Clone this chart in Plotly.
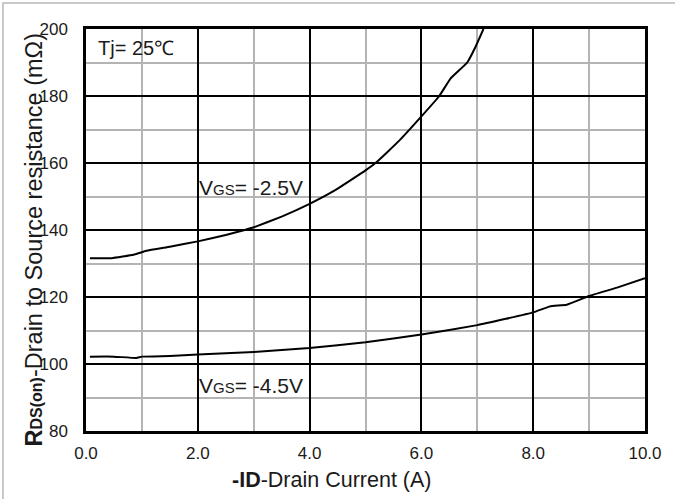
import plotly.graph_objects as go

# Data
id_25 = [0.07, 0.46, 0.85, 1.08, 1.5, 2.0, 2.5, 2.84, 3.0, 3.5, 4.0, 4.45, 5.0, 5.2, 5.6, 6.0, 6.32, 6.52, 6.82, 6.96, 7.11]
rds_25 = [131.6, 131.6, 132.6, 133.8, 135.0, 136.6, 138.5, 140.0, 140.8, 144.0, 147.8, 151.8, 157.8, 160.3, 166.6, 173.9, 180.0, 185.2, 190.0, 194.4, 200.0]

id_45 = [0.07, 0.5, 0.9, 1.0, 1.5, 2.0, 3.0, 4.0, 5.0, 6.0, 7.0, 8.0, 8.3, 8.6, 9.0, 9.5, 10.0]
rds_45 = [102.2, 102.2, 101.8, 102.2, 102.4, 102.8, 103.6, 104.8, 106.5, 108.8, 111.6, 115.4, 117.2, 117.7, 120.3, 122.8, 125.6]

x_ticks = [0, 2, 4, 6, 8, 10]
x_ticklabels = ["0.0", "2.0", "4.0", "6.0", "8.0", "10.0"]
x_minor = [1, 3, 5, 7, 9]
y_ticks = [80, 100, 120, 140, 160, 180, 200]
y_minor = [90, 110, 130, 150, 170, 190]

FONT = "Arial, Liberation Sans, sans-serif"
TXT = "#1a1a1a"
MINOR = "#b4b4b4"

fig = go.Figure()

fig.update_layout(
    width=675, height=499,
    margin=dict(l=86, r=30, t=29, b=68),
    paper_bgcolor="white", plot_bgcolor="white",
    font=dict(family=FONT, size=17, color=TXT),
    xaxis=dict(range=[x_ticks[0], x_ticks[-1]], tickmode="array", tickvals=x_ticks, ticktext=x_ticklabels,
               showgrid=True, gridcolor="black", gridwidth=2,
               minor=dict(tickmode="array", tickvals=x_minor, showgrid=True, gridcolor=MINOR, gridwidth=2),
               showline=True, linecolor="black", linewidth=2.5, mirror=True,
               ticks="", ticklabelstandoff=5, zeroline=False,
               tickfont=dict(size=17, color=TXT)),
    yaxis=dict(range=[y_ticks[0], y_ticks[-1]], tickmode="array", tickvals=y_ticks,
               showgrid=True, gridcolor="black", gridwidth=2,
               minor=dict(tickmode="array", tickvals=y_minor, showgrid=True, gridcolor=MINOR, gridwidth=2),
               showline=True, linecolor="black", linewidth=2.5, mirror=True,
               ticks="", ticklabelstandoff=12, zeroline=False,
               tickfont=dict(size=17, color=TXT)),
)

for xs, ys in ((id_25, rds_25), (id_45, rds_45)):
    fig.add_trace(go.Scatter(x=xs, y=ys, mode="lines",
                             line=dict(color="black", width=2, shape="spline", smoothing=0.3),
                             showlegend=False, cliponaxis=True))

fig.add_annotation(text="<b>R<span style='font-size:16px'>DS(on)</span></b>-Drain to Source resistance (mΩ)",
                   xref="paper", yref="paper", x=-0.093, y=0.474, textangle=-90,
                   showarrow=False, font=dict(size=23.5, color=TXT), xanchor="center", yanchor="middle")
fig.add_annotation(text="<b>-ID</b>-Drain Current (A)",
                   xref="paper", yref="paper", x=0.44, y=-0.122,
                   showarrow=False, font=dict(size=21.5, color=TXT), xanchor="center", yanchor="middle")
fig.add_annotation(text="Tj= 25℃", xref="paper", yref="paper",
                   x=(96 - 86) / 559, y=(431 - 48) / 402, xanchor="left", yanchor="middle",
                   showarrow=False, font=dict(size=20, color=TXT))
fig.add_annotation(text="V<span style='font-size:15px'>GS</span>= -2.5V", xref="paper", yref="paper",
                   x=(197 - 86) / 559, y=(431 - 187) / 402, xanchor="left", yanchor="middle",
                   showarrow=False, font=dict(size=21, color=TXT))
fig.add_annotation(text="V<span style='font-size:15px'>GS</span>= -4.5V", xref="paper", yref="paper",
                   x=(197 - 86) / 559, y=(431 - 385) / 402, xanchor="left", yanchor="middle",
                   showarrow=False, font=dict(size=21, color=TXT))

# outer light frame
fig.add_shape(type="rect", xref="paper", yref="paper",
              x0=(3 - 86) / 559, x1=1.08, y0=-0.2, y1=(431 - 3) / 402,
              line=dict(color="#b8b8b8", width=1.5), layer="above")

fig.write_html("out.html")
